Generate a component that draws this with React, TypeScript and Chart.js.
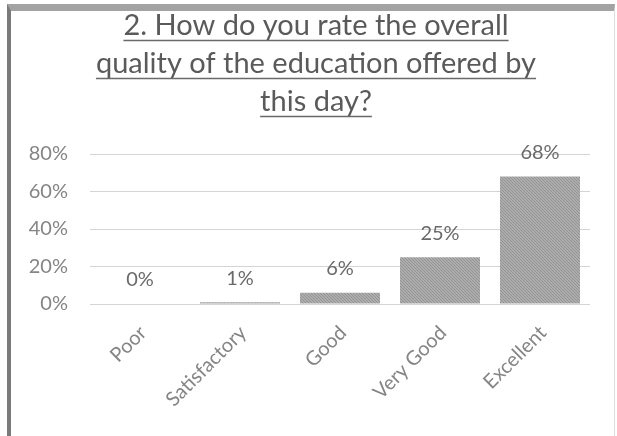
import React, { useEffect, useRef } from "react";
import { Chart, registerables } from "chart.js";

Chart.register(...registerables);

const categories: string[] = ["Poor", "Satisfactory", "Good", "Very Good", "Excellent"];
const values: number[] = [0, 1, 6, 25, 68];
const titleLines: string[] = [
  "2. How do you rate the overall",
  "quality of the education offered by",
  "this day?",
];
const yTicks: number[] = [0, 20, 40, 60, 80];

const FONT = "Lato, 'Open Sans', sans-serif";

function makePattern(): CanvasPattern | string {
  const c = document.createElement("canvas");
  c.width = 3;
  c.height = 3;
  const g = c.getContext("2d");
  if (!g) return "#a6a6a6";
  g.fillStyle = "#adadad";
  g.fillRect(0, 0, 3, 3);
  g.fillStyle = "#939393";
  g.fillRect(0, 0, 1, 1);
  g.fillRect(1, 1, 1, 1);
  g.fillRect(2, 2, 1, 1);
  const p = g.createPattern(c, "repeat");
  return p || "#a6a6a6";
}

const titlePlugin = {
  id: "underlinedTitle",
  afterDraw(chart: any) {
    const ctx = chart.ctx;
    ctx.save();
    ctx.font = `29px ${FONT}`;
    ctx.fillStyle = "#5a5a5a";
    ctx.strokeStyle = "#6a6a6a";
    ctx.lineWidth = 1.5;
    ctx.textAlign = "center";
    ctx.textBaseline = "alphabetic";
    const cx = 316;
    const baselines = [35, 73, 111];
    titleLines.forEach((line, i) => {
      const y = baselines[i];
      ctx.fillText(line, cx, y);
      const w = ctx.measureText(line).width;
      ctx.beginPath();
      ctx.moveTo(cx - w / 2, y + 5.5);
      ctx.lineTo(cx + w / 2, y + 5.5);
      ctx.stroke();
    });
    ctx.restore();
  },
};

const labelPlugin = {
  id: "barLabels",
  afterDatasetsDraw(chart: any) {
    const ctx = chart.ctx;
    const meta = chart.getDatasetMeta(0);
    ctx.save();
    ctx.font = `20px ${FONT}`;
    ctx.fillStyle = "#6a6a6a";
    ctx.textAlign = "center";
    ctx.textBaseline = "middle";
    meta.data.forEach((el: any, i: number) => {
      ctx.fillText(`${values[i]}%`, el.x, el.y - 24);
    });
    ctx.restore();
  },
};

export default function App() {
  const ref = useRef<HTMLCanvasElement | null>(null);

  useEffect(() => {
    if (!ref.current) return;
    const chart = new Chart(ref.current, {
      type: "bar",
      data: {
        labels: categories,
        datasets: [
          {
            data: values,
            backgroundColor: makePattern() as any,
            borderWidth: 0,
            barPercentage: 0.8,
            categoryPercentage: 1,
          },
        ],
      },
      options: {
        animation: false,
        responsive: false,
        maintainAspectRatio: false,
        layout: { padding: { top: 154, right: 27, left: 0, bottom: 0 } },
        plugins: {
          legend: { display: false },
          title: { display: false },
          tooltip: { enabled: false },
        },
        scales: {
          x: {
            grid: { display: false, drawTicks: false },
            border: { display: false },
            ticks: {
              minRotation: 45,
              maxRotation: 45,
              padding: 17,
              labelOffset: 3,
              color: "#858585",
              font: { family: FONT, size: 20 },
            },
            afterFit(scale: any) {
              scale.height = 132;
            },
          },
          y: {
            min: 0,
            max: 80,
            afterBuildTicks(scale: any) {
              scale.ticks = yTicks.map((v) => ({ value: v }));
            },
            grid: { color: "#d4d4d4", lineWidth: 1, drawTicks: false },
            border: { display: false },
            ticks: {
              padding: 22,
              color: "#858585",
              font: { family: FONT, size: 20 },
              callback: (v: any) => `${v}%`,
            },
            afterFit(scale: any) {
              scale.width = 90;
            },
          },
        },
      },
      plugins: [titlePlugin, labelPlugin],
    });
    return () => chart.destroy();
  }, []);

  return (
    <div style={{ position: "absolute", left: 0, top: 0, width: 617, height: 436, background: "#fff" }}>
      <canvas ref={ref} width={617} height={436} style={{ position: "absolute", left: 0, top: 0, width: 617, height: 436 }} />
      <div
        style={{
          position: "absolute",
          left: 7,
          top: 4,
          width: 603,
          height: 426,
          borderLeft: "4px solid #7a7a7a",
          borderTop: "7px solid #a3a3a3",
          borderRight: "1px solid #dddddd",
          borderBottom: "2px solid #a8a8a8",
          pointerEvents: "none",
        }}
      />
    </div>
  );
}
